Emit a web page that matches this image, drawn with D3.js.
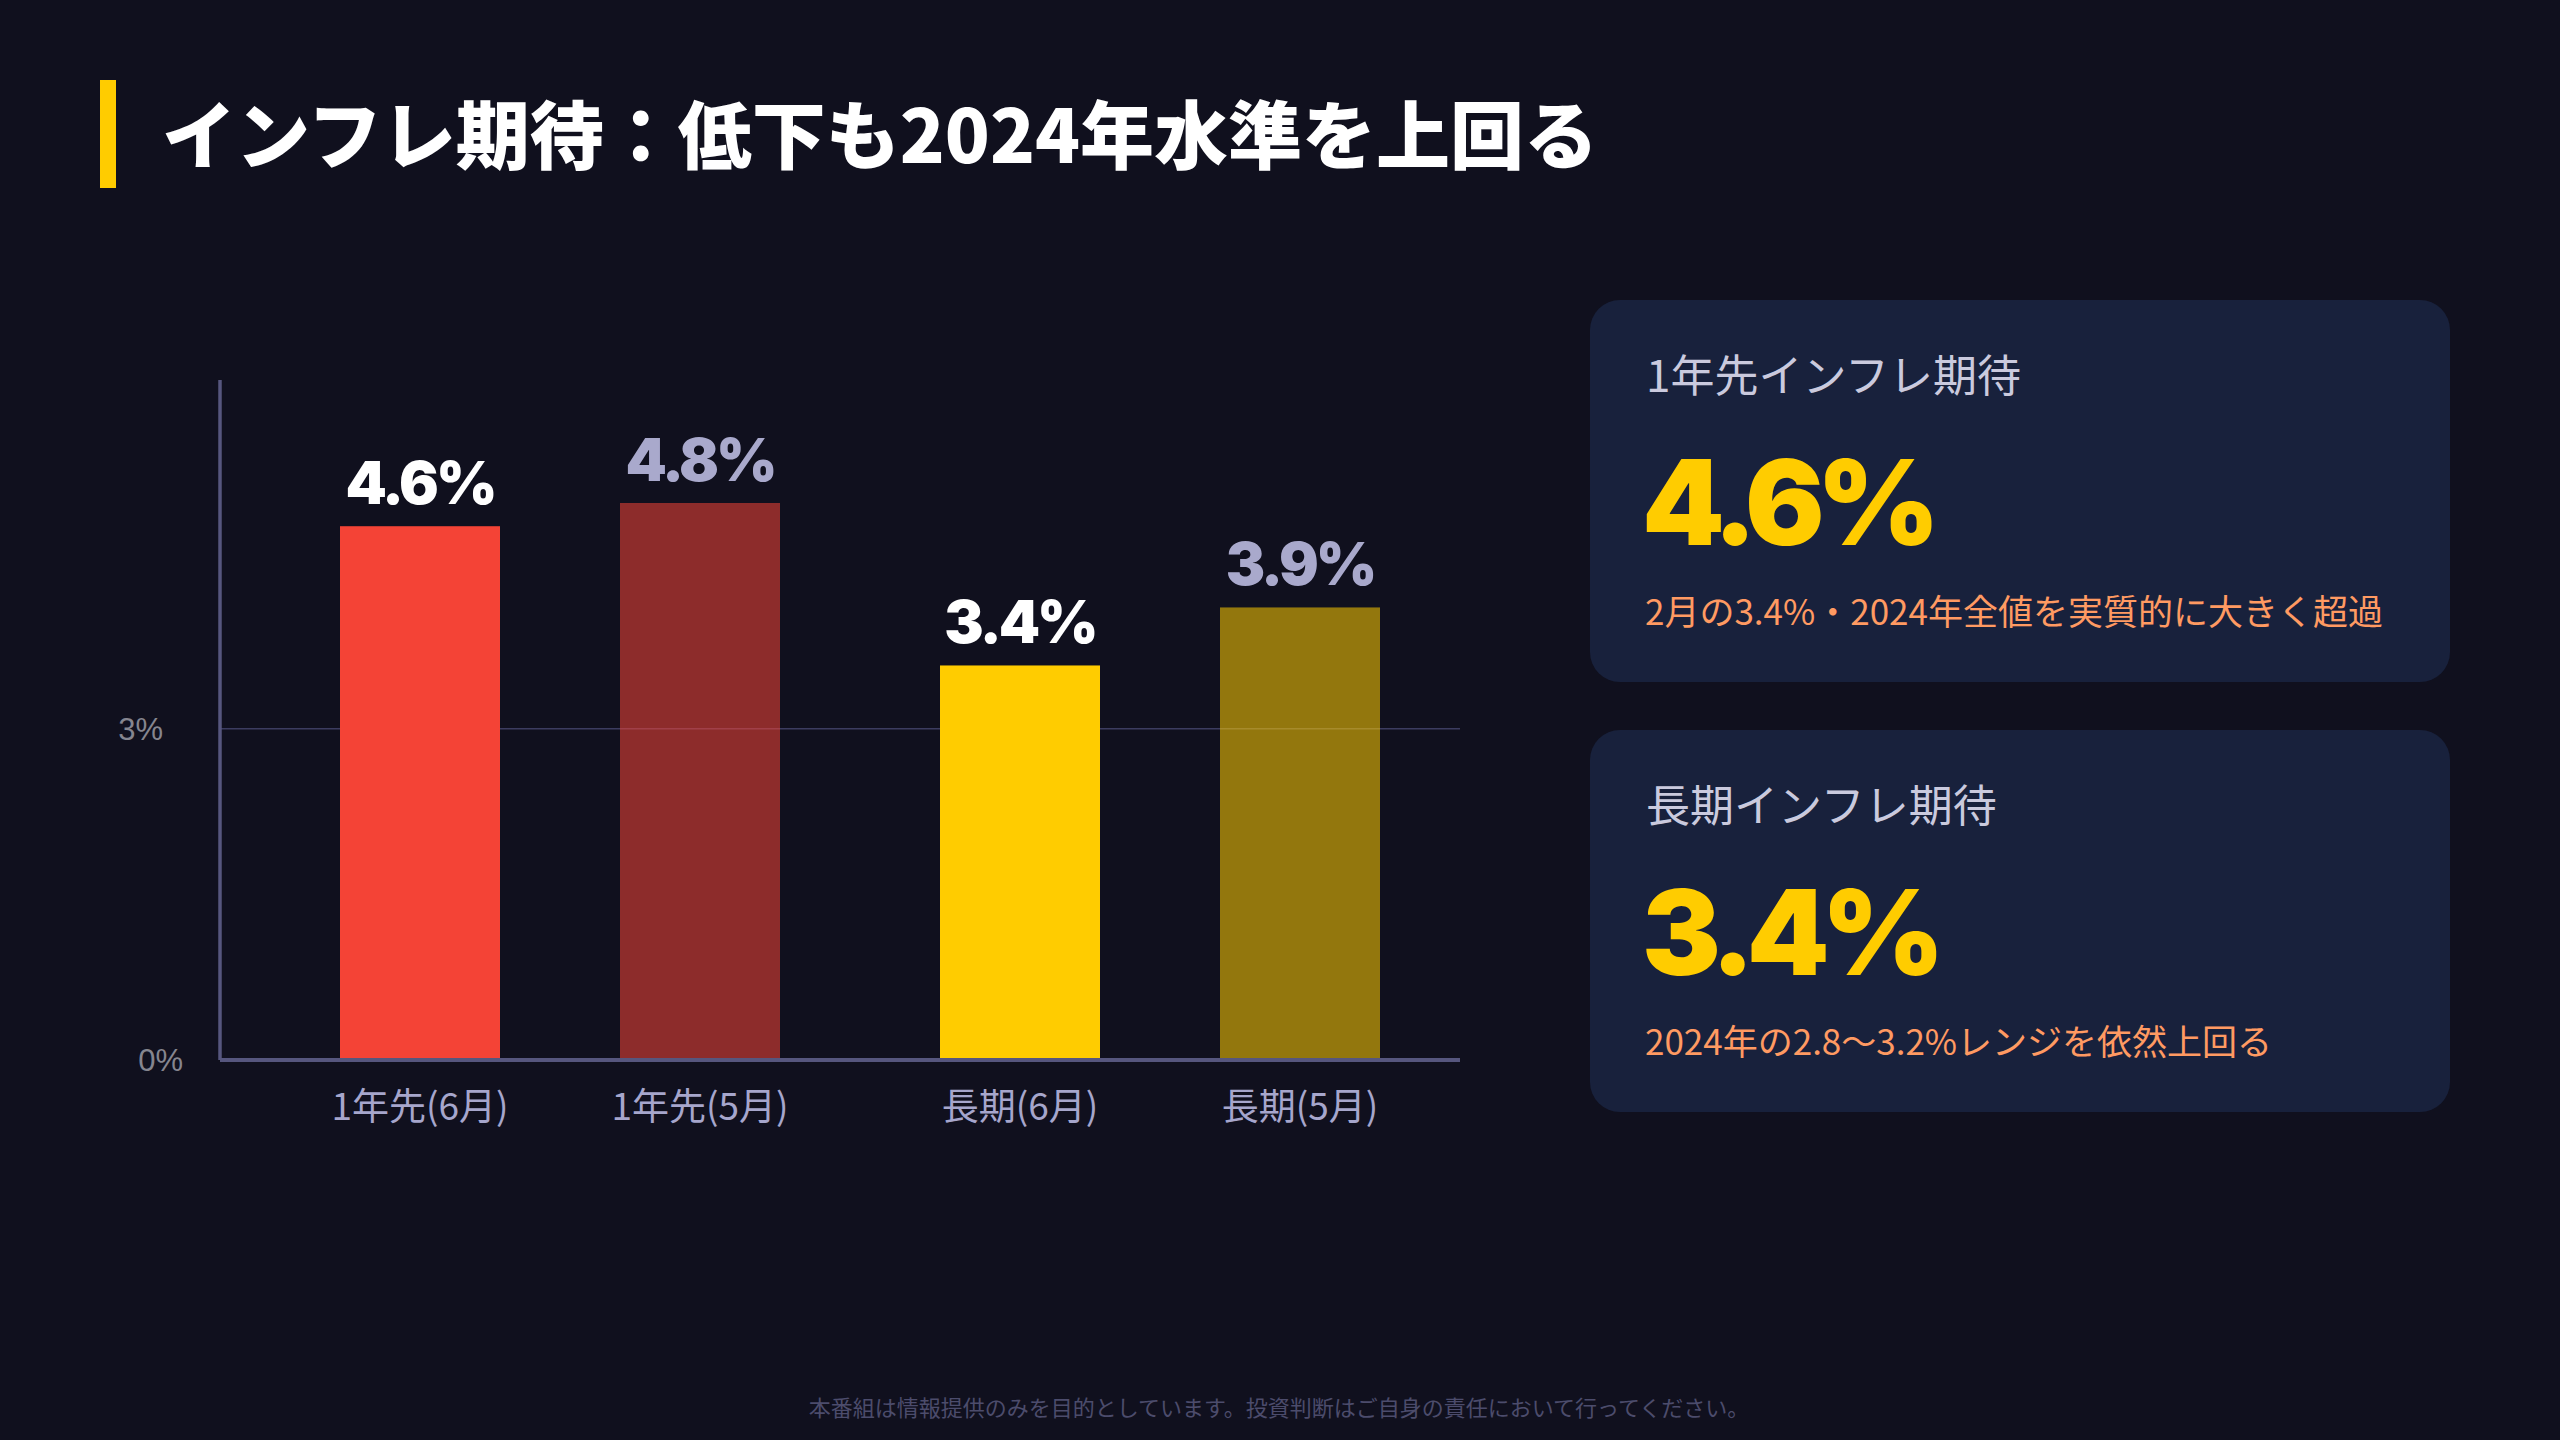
<!DOCTYPE html>
<html lang="ja">
<head>
<meta charset="utf-8">
<script src="https://cdn.jsdelivr.net/npm/d3@7"></script>
<style>
  html, body { margin: 0; padding: 0; background: #10101e; }
  svg { display: block; }
</style>
</head>
<body>
<div class="chart"></div>
<script>
// data
const title = 'インフレ期待：低下も2024年水準を上回る';
const groups = ['1年先', '長期'];
const months = ['6月', '5月'];
const categories = ['1年先(6月)', '1年先(5月)', '長期(6月)', '長期(5月)'];
const values = [4.6, 4.8, 3.4, 3.9];
const yTicks = [0, 3];
const tickLabels = ['0%', '3%'];

const cardTitles = ['1年先インフレ期待', '長期インフレ期待'];
const cardValues = [4.6, 3.4];
const cardNotes = ['2月の3.4%・2024年全値を実質的に大きく超過', '2024年の2.8〜3.2%レンジを依然上回る'];

const footer = '本番組は情報提供のみを目的としています。投資判断はご自身の責任において行ってください。';

const W = 2560, H = 1440;
const colors = { '1年先': '#f44336', '長期': '#ffcc00' };
const jp = "'Noto Sans CJK JP', 'Noto Sans', sans-serif";
const num = "Inter, 'Liberation Sans', sans-serif";

const plot = { left: 220, right: 1460, top: 380, bottom: 1060 };

const svg = d3.select('.chart').append('svg')
  .attr('width', W).attr('height', H);

svg.append('rect').attr('width', W).attr('height', H).attr('fill', '#10101e');

// title
svg.append('rect').attr('x', 100).attr('y', 80).attr('width', 16).attr('height', 108).attr('fill', '#ffcc00');
svg.append('text')
  .attr('x', 162).attr('y', 163)
  .attr('font-family', jp).attr('font-weight', 900).attr('font-size', 74)
  .attr('fill', '#ffffff')
  .text(title);

// scales
const x0 = d3.scaleBand().domain(groups).range([plot.left + 40, plot.right]);
const x1 = d3.scaleBand().domain(months).range([0, x0.bandwidth()])
  .paddingInner(3 / 7).paddingOuter(2 / 7);
const y = d3.scaleLinear().domain([0, 5.86]).range([plot.bottom, plot.top]);
// the labelled gridline sits a little lower than the bar scale would put it
const yAxis = d3.scaleLinear().domain([0, 6.16]).range([plot.bottom, plot.top]);

const rows = categories.map((c, i) => {
  const [g, m] = c.replace(')', '').split('(');
  return { label: c, group: g, month: m, value: values[i] };
});

const g = svg.append('g');

// gridline
g.selectAll('.grid').data(yTicks.filter(d => d > 0)).join('line')
  .attr('class', 'grid')
  .attr('x1', plot.left).attr('x2', plot.right)
  .attr('y1', d => yAxis(d)).attr('y2', d => yAxis(d))
  .attr('stroke', '#3c3c60').attr('stroke-width', 1.5);

g.selectAll('.tick-label').data(yTicks).join('text')
  .attr('class', 'tick-label')
  .attr('x', d => (d === 0 ? 183 : 163))
  .attr('y', d => yAxis(d))
  .attr('dy', '0.35em')
  .attr('text-anchor', 'end')
  .attr('font-family', "'Liberation Sans', Arial, sans-serif")
  .attr('font-size', 31)
  .attr('fill', '#85858f')
  .text((d, i) => tickLabels[i]);

// bars
g.selectAll('.bar').data(rows).join('rect')
  .attr('class', 'bar')
  .attr('x', d => x0(d.group) + x1(d.month))
  .attr('y', d => y(d.value))
  .attr('width', x1.bandwidth())
  .attr('height', d => y(0) - y(d.value))
  .attr('fill', d => colors[d.group])
  .attr('fill-opacity', d => (d.month === months[0] ? 1 : 0.55));

// value labels
g.selectAll('.value').data(rows).join('text')
  .attr('class', 'value')
  .attr('x', d => x0(d.group) + x1(d.month) + x1.bandwidth() / 2)
  .attr('y', d => y(d.value) - 22)
  .attr('text-anchor', 'middle')
  .attr('font-family', num).attr('font-weight', 900).attr('font-size', 59)
  .attr('letter-spacing', -3)
  .attr('fill', d => (d.month === months[0] ? '#ffffff' : '#a9a9cc'))
  .text(d => d.value.toFixed(1) + '%');

// category labels
g.selectAll('.cat').data(rows).join('text')
  .attr('class', 'cat')
  .attr('x', d => x0(d.group) + x1(d.month) + x1.bandwidth() / 2)
  .attr('y', 1120)
  .attr('text-anchor', 'middle')
  .attr('font-family', jp).attr('font-size', 37)
  .attr('fill', '#a6a6cc')
  .text(d => d.label);

// axes
g.append('line')
  .attr('x1', plot.left).attr('x2', plot.left)
  .attr('y1', plot.top).attr('y2', plot.bottom)
  .attr('stroke', '#56567e').attr('stroke-width', 3.5);
g.append('line')
  .attr('x1', plot.left).attr('x2', plot.right)
  .attr('y1', plot.bottom).attr('y2', plot.bottom)
  .attr('stroke', '#56567e').attr('stroke-width', 4);

// cards
const cardX = 1590, cardW = 860, cardH = 382;
const cardY = d3.scalePoint().domain(cardTitles).range([300, 730]);

const cards = svg.selectAll('.card').data(cardTitles).join('g')
  .attr('class', 'card')
  .attr('transform', d => `translate(${cardX}, ${cardY(d)})`);

cards.append('rect')
  .attr('width', cardW).attr('height', cardH)
  .attr('rx', 30).attr('ry', 30)
  .attr('fill', '#18213c');

cards.append('text')
  .attr('x', 56).attr('y', 92)
  .attr('font-family', jp).attr('font-size', 44)
  .attr('fill', '#cacade')
  .text(d => d);

cards.append('text')
  .attr('x', 52).attr('y', 245)
  .attr('font-family', num).attr('font-weight', 900).attr('font-size', 118)
  .attr('letter-spacing', -8)
  .attr('fill', '#ffcc00')
  .text((d, i) => cardValues[i].toFixed(1) + '%');

cards.append('text')
  .attr('x', 55).attr('y', 325)
  .attr('font-family', jp).attr('font-size', 35)
  .attr('fill', '#ff9a62')
  .text((d, i) => cardNotes[i]);

// footer
svg.append('text')
  .attr('x', 1279).attr('y', 1416)
  .attr('text-anchor', 'middle')
  .attr('font-family', jp).attr('font-size', 22)
  .attr('fill', '#4c4c6c')
  .text(footer);
</script>
</body>
</html>
